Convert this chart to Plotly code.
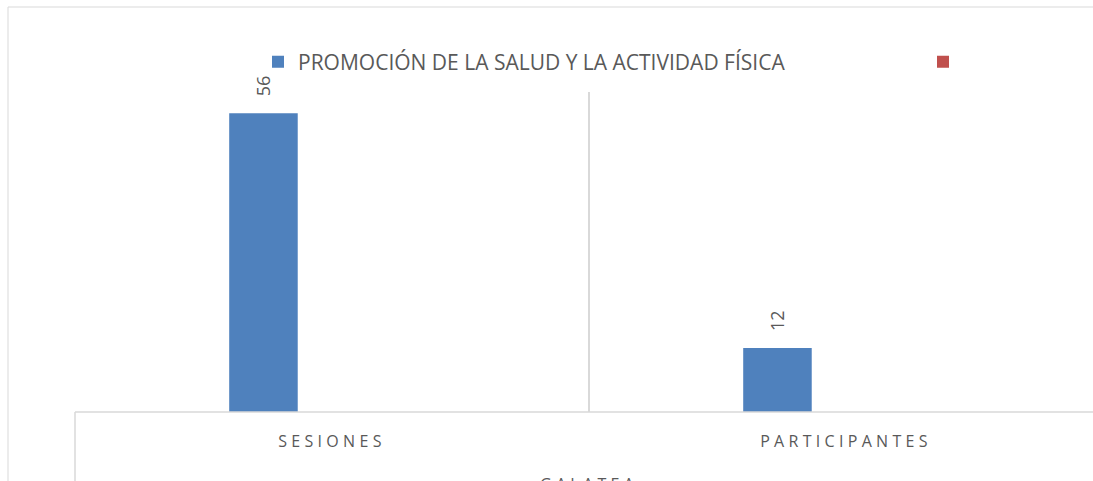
import plotly.graph_objects as go

categories = ["SESIONES", "PARTICIPANTES"]
series1_name = "PROMOCIÓN DE LA SALUD Y LA ACTIVIDAD FÍSICA"
series1_values = [56, 12]
series2_name = ""
series2_values = [None, None]
series3_values = [None, None]
group_label = "GALATEA"

W, H = 1093, 481
L, T, B = 75, 92, 69
PW = W - L
PH = H - T - B

def px_x(x):
    return (x - L) / PW

def px_y(y):
    return (H - B - y) / PH

FONT = "Open Sans"
GRAY = "#595959"
GRID = "#d9d9d9"

def spaced(s, sp=4.3):
    return f'<span style="letter-spacing:{sp}px">{s}</span>'

fig = go.Figure()
fig.add_trace(go.Bar(
    x=categories, y=series1_values, name=series1_name,
    marker=dict(color="#4f81bd", line=dict(width=0)),
    text=series1_values,
    texttemplate="\u00a0\u00a0\u00a0%{y}",
    textposition="outside", textangle=-90,
    textfont=dict(family=FONT, size=18, color=GRAY),
    cliponaxis=False, legend="legend",
))
fig.add_trace(go.Bar(
    x=categories, y=series2_values, name=series2_name,
    marker=dict(color="#c0504d", line=dict(width=0)),
    legend="legend2",
))
fig.add_trace(go.Bar(
    x=categories, y=series3_values, name="", showlegend=False,
    marker=dict(color="#9bbb59", line=dict(width=0)),
))

shapes = [
    dict(type="rect", xref="paper", yref="paper",
         x0=px_x(8), x1=px_x(1200), y0=px_y(600), y1=px_y(7),
         line=dict(color=GRID, width=1), fillcolor="rgba(0,0,0,0)", layer="below"),
    dict(type="line", xref="paper", yref="paper",
         x0=0, x1=0, y0=px_y(600), y1=0,
         line=dict(color=GRID, width=1.5)),
    dict(type="line", xref="paper", yref="paper",
         x0=0, x1=1, y0=0, y1=0,
         line=dict(color=GRID, width=1.5)),
]

legend_common = dict(
    orientation="h", xanchor="left", yanchor="middle", y=px_y(62),
    font=dict(family=FONT, size=21, color=GRAY),
    bgcolor="rgba(0,0,0,0)",
)

fig.update_layout(
    width=W, height=H,
    margin=dict(l=L, r=0, t=T, b=B),
    paper_bgcolor="white", plot_bgcolor="white",
    barmode="group", bargap=0.6, bargroupgap=0,
    font=dict(family=FONT, color=GRAY),
    showlegend=True,
    legend=dict(x=px_x(258), **legend_common),
    legend2=dict(x=px_x(923), **legend_common),
    shapes=shapes,
    annotations=[dict(
        text=spaced(group_label), xref="paper", yref="paper",
        x=px_x(589), y=px_y(484), xanchor="center", yanchor="middle",
        showarrow=False, font=dict(family=FONT, size=16, color=GRAY),
    )],
)
fig.update_xaxes(
    range=[-0.5, -0.5 + PW / 514.0],
    tickmode="array", tickvals=[0, 1],
    ticktext=[spaced(c) for c in categories],
    tickson="boundaries", ticks="", showgrid=True, gridcolor=GRID, gridwidth=1.5,
    showline=False, zeroline=False,
    tickfont=dict(family=FONT, size=16, color=GRAY),
    ticklabelstandoff=18,
)
fig.update_yaxes(
    range=[0, 60], showgrid=False, showticklabels=False, zeroline=False,
    showline=False, ticks="",
)

fig.write_html("out.html", config={"displayModeBar": False},
               post_script="document.body.style.margin='0';document.body.style.overflow='hidden';")
